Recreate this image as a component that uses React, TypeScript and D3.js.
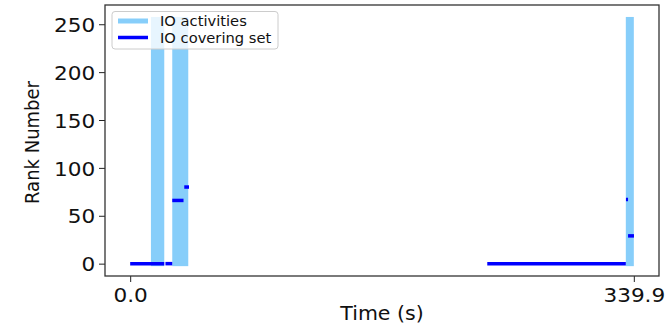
import { useRef, useEffect } from "react";
import * as d3 from "d3";

const svg_width = 669;
const svg_height = 328;
const margin = { top: 5, right: 10, bottom: 52, left: 105 };

// time range of the trace (s)
const t_max = 339.9;
const x_ticks = [0, 339.9];
const y_ticks = [0, 50, 100, 150, 200, 250];

// ranks that take part in the IO
const rank_min = 0;
const rank_max = 255;

// IO activity blocks [start, end] in seconds, spanning every rank
const io_starts = [14.0, 28.4, 334.5];
const io_ends = [23.0, 39.2, 339.9];

// covering set segments
const cover_rank = [0, 0, 66, 80, 0, 67, 29];
const cover_start = [0.0, 23.8, 28.4, 36.5, 241.0, 334.6, 336.0];
const cover_end = [23.0, 28.4, 36.0, 39.7, 334.5, 336.0, 340.0];

const legend_labels = ["IO activities", "IO covering set"];

const light = "#87cefa";
const dark = "#0000ff";
const font = "'DejaVu Sans', sans-serif";
const stretch = 1.08;

export default function App() {
    const ref = useRef(null);

    const width = svg_width - margin.left - margin.right;
    const height = svg_height - margin.top - margin.bottom;

    useEffect(() => {
        const root = d3.select(ref.current);
        root.selectAll("*").remove();

        const x = d3.scaleLinear()
            .domain([-0.05 * t_max, 1.05 * t_max])
            .range([0, width]);

        const y = d3.scaleLinear()
            .domain([-12.9, 270.1])
            .range([height, 0]);

        const svg = root.append("svg")
            .attr("width", svg_width)
            .attr("height", svg_height)
            .style("position", "absolute")
            .style("left", "0px")
            .style("top", "0px")
            .style("background-color", "white");

        const g = svg.append("g")
            .attr("transform", `translate(${margin.left}, ${margin.top})`);

        const plot = g.append("g");

        // IO activities: one thick band per block covering all ranks
        plot.selectAll("rect.io")
            .data(io_starts.map((s, i) => [s, io_ends[i]]))
            .join("rect")
                .attr("class", "io")
                .attr("x", d => x(d[0]))
                .attr("width", d => x(d[1]) - x(d[0]))
                .attr("y", y(rank_max) - 2.5)
                .attr("height", y(rank_min) - y(rank_max) + 5)
                .attr("fill", light);

        // covering set
        plot.selectAll("line.cover")
            .data(cover_rank.map((r, i) => ({ r, s: cover_start[i], e: cover_end[i] })))
            .join("line")
                .attr("class", "cover")
                .attr("x1", d => x(d.s))
                .attr("x2", d => x(d.e))
                .attr("y1", d => y(d.r))
                .attr("y2", d => y(d.r))
                .attr("stroke", dark)
                .attr("stroke-width", 3.5);

        // axes
        const xAxis = g.append("g")
            .attr("transform", `translate(0, ${height})`)
            .call(d3.axisBottom(x).tickValues(x_ticks).tickFormat(d3.format(".1f")).tickSize(6).tickPadding(3));

        const yAxis = g.append("g")
            .call(d3.axisLeft(y).tickValues(y_ticks).tickSize(6).tickPadding(3));

        [xAxis, yAxis].forEach(a => {
            a.select(".domain").remove();
            a.selectAll("line").attr("stroke", "#222").attr("stroke-width", 1);
            a.selectAll("text")
                .attr("fill", "#111")
                .style("font-family", font)
                .style("font-size", "20px");
        });
        xAxis.selectAll("text").attr("dy", "0.85em")
            .attr("transform", `scale(${stretch},1)`);
        yAxis.selectAll("text").attr("dy", "0.36em")
            .attr("transform", `scale(${stretch},1)`);

        // frame
        g.append("rect")
            .attr("width", width)
            .attr("height", height)
            .attr("fill", "none")
            .attr("stroke", "#333")
            .attr("stroke-width", 1.3);

        // labels
        svg.append("text")
            .attr("transform", `translate(${margin.left + width / 2}, 320) scale(${stretch},1)`)
            .attr("text-anchor", "middle")
            .style("font-family", font)
            .style("font-size", "19px")
            .attr("fill", "#111")
            .text("Time (s)");

        svg.append("text")
            .attr("transform", `translate(39, ${margin.top + height / 2 + 2}) rotate(-90) scale(1,1.12)`)
            .attr("text-anchor", "middle")
            .style("font-family", font)
            .style("font-size", "18px")
            .attr("fill", "#111")
            .text("Rank Number");

        // legend
        const lg = svg.append("g").attr("transform", "translate(112, 11.5)");
        lg.append("rect")
            .attr("width", 166)
            .attr("height", 37.5)
            .attr("rx", 3)
            .attr("fill", "white")
            .attr("fill-opacity", 0.8)
            .attr("stroke", "#ccc")
            .attr("stroke-width", 1);

        legend_labels.forEach((label, i) => {
            const cy = 9.5 + i * 16.5;
            lg.append("line")
                .attr("x1", 6)
                .attr("x2", 36)
                .attr("y1", cy)
                .attr("y2", cy)
                .attr("stroke", i === 0 ? light : dark)
                .attr("stroke-width", i === 0 ? 5 : 3.5);
            lg.append("text")
                .attr("transform", `translate(48, ${cy + 5}) scale(1.05,1)`)
                .style("font-family", font)
                .style("font-size", "14px")
                .attr("fill", "#111")
                .text(label);
        });

        return () => { root.selectAll("*").remove(); };
    }, [ref]);

    return (
        <div ref={ref} />
    );
}
